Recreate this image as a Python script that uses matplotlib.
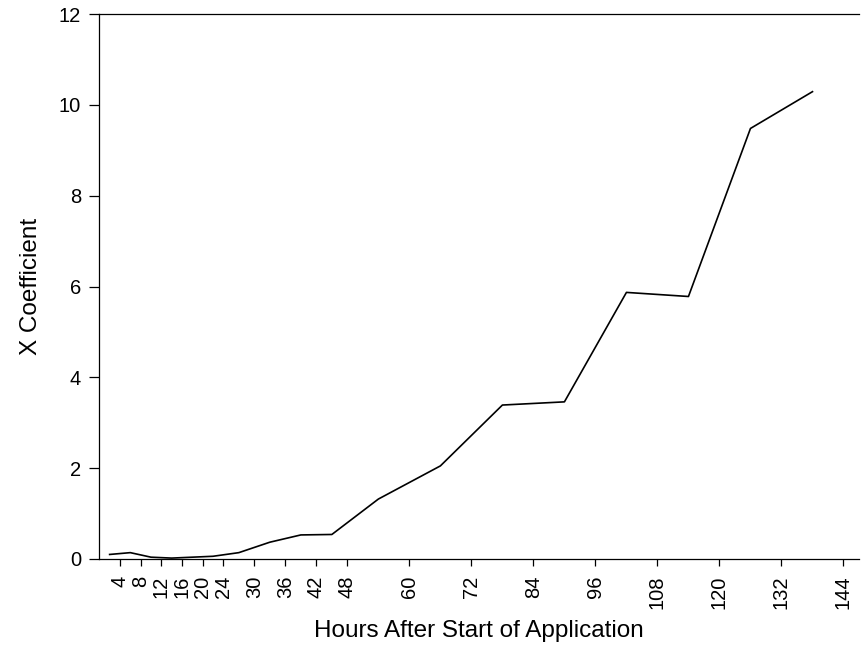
import numpy as np
import matplotlib
matplotlib.use("Agg")
import matplotlib.pyplot as plt

plt.rcParams['font.family'] = ['Liberation Sans', 'DejaVu Sans']

# midpoints of the sampling intervals (hours)
hours = [2, 6, 10, 14, 18, 22, 27, 33, 39, 45, 54, 66, 78, 90, 102, 114, 126, 138]
x_coef = [0.10, 0.14, 0.04, 0.02, 0.04, 0.06, 0.14, 0.37, 0.53, 0.54,
          1.32, 2.05, 3.39, 3.46, 5.87, 5.78, 9.48, 10.29]

xticks = [4, 8, 12, 16, 20, 24, 30, 36, 42, 48, 60, 72, 84, 96, 108, 120, 132, 144]
yticks = [0, 2, 4, 6, 8, 10, 12]

fig = plt.figure(figsize=(8.65, 6.48), dpi=100)
ax = fig.add_axes([99.3 / 865, 1 - 559 / 648, (859 - 99.3) / 865, (559 - 14) / 648])

ax.plot(hours, x_coef, color="black", lw=1.2)

ax.set_xlim(0, 147)
ax.set_ylim(0, 12)
ax.set_xticks(xticks)
ax.set_xticklabels([str(t) for t in xticks], rotation=90)
ax.set_yticks(yticks)

ax.spines['right'].set_visible(False)
for s in ['left', 'bottom', 'top']:
    ax.spines[s].set_linewidth(0.9)

ax.tick_params(axis='x', direction='out', length=5, width=0.9, pad=7, labelsize=14.5)
ax.tick_params(axis='y', direction='out', length=7, width=0.9, pad=6, labelsize=14.5)

ax.set_xlabel("Hours After Start of Application", fontsize=17.5, labelpad=8)
ax.set_ylabel("X Coefficient", fontsize=17.5, labelpad=12)

fig.savefig("out.png", dpi=100)
